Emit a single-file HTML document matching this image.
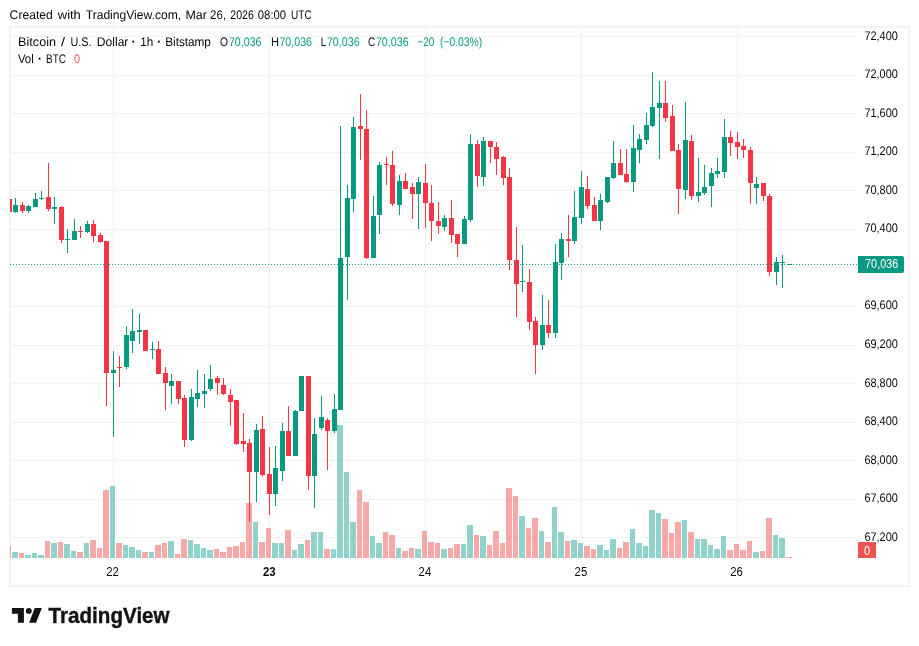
<!DOCTYPE html>
<html lang="en"><head><meta charset="utf-8"><title>BTCUSD chart</title>
<style>html,body{margin:0;padding:0;background:#fff}body{width:919px;height:646px;overflow:hidden}svg{display:block}text{font-family:"Liberation Sans",Arial,sans-serif;font-size:12.5px;fill:#05070c}text.d{font-size:13px;font-weight:bold}text.g{fill:#089981}text.r{fill:#ef5350}</style></head><body>
<svg width="919" height="646" viewBox="0 0 919 646" shape-rendering="crispEdges">
<rect width="919" height="646" fill="#fff"/>
<g fill="#f2f2f3">
<rect x="11" y="36" width="846" height="1"/>
<rect x="11" y="75" width="846" height="1"/>
<rect x="11" y="113" width="846" height="1"/>
<rect x="11" y="152" width="846" height="1"/>
<rect x="11" y="190" width="846" height="1"/>
<rect x="11" y="229" width="846" height="1"/>
<rect x="11" y="267" width="846" height="1"/>
<rect x="11" y="306" width="846" height="1"/>
<rect x="11" y="345" width="846" height="1"/>
<rect x="11" y="383" width="846" height="1"/>
<rect x="11" y="422" width="846" height="1"/>
<rect x="11" y="460" width="846" height="1"/>
<rect x="11" y="499" width="846" height="1"/>
<rect x="11" y="537" width="846" height="1"/>
<rect x="113" y="28" width="1" height="530"/>
<rect x="269" y="28" width="1" height="530"/>
<rect x="425" y="28" width="1" height="530"/>
<rect x="581" y="28" width="1" height="530"/>
<rect x="737" y="28" width="1" height="530"/>
</g>
<rect x="10" y="27" width="899" height="559" fill="none" stroke="#f3f3f4" stroke-width="2"/>
<g>
<rect x="10" y="546" width="1" height="12" fill="rgba(239,83,80,0.5)"/>
<rect x="12" y="552" width="6" height="6" fill="rgba(38,166,154,0.5)"/>
<rect x="19" y="553" width="5" height="5" fill="rgba(239,83,80,0.5)"/>
<rect x="25" y="555" width="6" height="3" fill="rgba(38,166,154,0.5)"/>
<rect x="32" y="553" width="5" height="5" fill="rgba(38,166,154,0.5)"/>
<rect x="38" y="555" width="6" height="3" fill="rgba(38,166,154,0.5)"/>
<rect x="45" y="541" width="5" height="17" fill="rgba(239,83,80,0.5)"/>
<rect x="51" y="543" width="6" height="15" fill="rgba(38,166,154,0.5)"/>
<rect x="58" y="542" width="5" height="16" fill="rgba(239,83,80,0.5)"/>
<rect x="64" y="544" width="6" height="14" fill="rgba(38,166,154,0.5)"/>
<rect x="71" y="551" width="5" height="7" fill="rgba(38,166,154,0.5)"/>
<rect x="77" y="552" width="6" height="6" fill="rgba(239,83,80,0.5)"/>
<rect x="84" y="543" width="5" height="15" fill="rgba(38,166,154,0.5)"/>
<rect x="90" y="540" width="6" height="18" fill="rgba(239,83,80,0.5)"/>
<rect x="97" y="548" width="5" height="10" fill="rgba(239,83,80,0.5)"/>
<rect x="103" y="490" width="6" height="68" fill="rgba(239,83,80,0.5)"/>
<rect x="110" y="486" width="5" height="72" fill="rgba(38,166,154,0.5)"/>
<rect x="116" y="543" width="6" height="15" fill="rgba(239,83,80,0.5)"/>
<rect x="123" y="545" width="5" height="13" fill="rgba(38,166,154,0.5)"/>
<rect x="129" y="547" width="6" height="11" fill="rgba(38,166,154,0.5)"/>
<rect x="136" y="550" width="5" height="8" fill="rgba(38,166,154,0.5)"/>
<rect x="142" y="552" width="6" height="6" fill="rgba(239,83,80,0.5)"/>
<rect x="149" y="552" width="5" height="6" fill="rgba(38,166,154,0.5)"/>
<rect x="155" y="545" width="6" height="13" fill="rgba(239,83,80,0.5)"/>
<rect x="162" y="543" width="5" height="15" fill="rgba(239,83,80,0.5)"/>
<rect x="168" y="541" width="6" height="17" fill="rgba(38,166,154,0.5)"/>
<rect x="175" y="554" width="5" height="4" fill="rgba(239,83,80,0.5)"/>
<rect x="181" y="539" width="6" height="19" fill="rgba(239,83,80,0.5)"/>
<rect x="188" y="540" width="5" height="18" fill="rgba(38,166,154,0.5)"/>
<rect x="194" y="544" width="6" height="14" fill="rgba(38,166,154,0.5)"/>
<rect x="201" y="548" width="5" height="10" fill="rgba(38,166,154,0.5)"/>
<rect x="207" y="550" width="6" height="8" fill="rgba(38,166,154,0.5)"/>
<rect x="214" y="549" width="5" height="9" fill="rgba(239,83,80,0.5)"/>
<rect x="220" y="552" width="6" height="6" fill="rgba(239,83,80,0.5)"/>
<rect x="227" y="547" width="5" height="11" fill="rgba(239,83,80,0.5)"/>
<rect x="233" y="546" width="6" height="12" fill="rgba(239,83,80,0.5)"/>
<rect x="240" y="542" width="5" height="16" fill="rgba(239,83,80,0.5)"/>
<rect x="246" y="503" width="6" height="55" fill="rgba(239,83,80,0.5)"/>
<rect x="253" y="522" width="5" height="36" fill="rgba(38,166,154,0.5)"/>
<rect x="259" y="542" width="6" height="16" fill="rgba(239,83,80,0.5)"/>
<rect x="266" y="528" width="5" height="30" fill="rgba(239,83,80,0.5)"/>
<rect x="272" y="543" width="6" height="15" fill="rgba(38,166,154,0.5)"/>
<rect x="279" y="543" width="5" height="15" fill="rgba(38,166,154,0.5)"/>
<rect x="285" y="530" width="6" height="28" fill="rgba(239,83,80,0.5)"/>
<rect x="292" y="550" width="5" height="8" fill="rgba(38,166,154,0.5)"/>
<rect x="298" y="544" width="6" height="14" fill="rgba(38,166,154,0.5)"/>
<rect x="305" y="540" width="5" height="18" fill="rgba(239,83,80,0.5)"/>
<rect x="311" y="532" width="6" height="26" fill="rgba(38,166,154,0.5)"/>
<rect x="318" y="532" width="5" height="26" fill="rgba(38,166,154,0.5)"/>
<rect x="324" y="549" width="6" height="9" fill="rgba(239,83,80,0.5)"/>
<rect x="331" y="549" width="5" height="9" fill="rgba(38,166,154,0.5)"/>
<rect x="337" y="425" width="6" height="133" fill="rgba(38,166,154,0.5)"/>
<rect x="344" y="472" width="5" height="86" fill="rgba(38,166,154,0.5)"/>
<rect x="350" y="522" width="6" height="36" fill="rgba(38,166,154,0.5)"/>
<rect x="357" y="490" width="5" height="68" fill="rgba(239,83,80,0.5)"/>
<rect x="363" y="502" width="6" height="56" fill="rgba(239,83,80,0.5)"/>
<rect x="370" y="536" width="5" height="22" fill="rgba(38,166,154,0.5)"/>
<rect x="376" y="543" width="6" height="15" fill="rgba(38,166,154,0.5)"/>
<rect x="383" y="532" width="5" height="26" fill="rgba(239,83,80,0.5)"/>
<rect x="389" y="535" width="6" height="23" fill="rgba(239,83,80,0.5)"/>
<rect x="396" y="548" width="5" height="10" fill="rgba(38,166,154,0.5)"/>
<rect x="402" y="551" width="6" height="7" fill="rgba(239,83,80,0.5)"/>
<rect x="409" y="548" width="5" height="10" fill="rgba(239,83,80,0.5)"/>
<rect x="415" y="549" width="6" height="9" fill="rgba(38,166,154,0.5)"/>
<rect x="422" y="531" width="5" height="27" fill="rgba(239,83,80,0.5)"/>
<rect x="428" y="542" width="6" height="16" fill="rgba(239,83,80,0.5)"/>
<rect x="435" y="543" width="5" height="15" fill="rgba(239,83,80,0.5)"/>
<rect x="441" y="549" width="6" height="9" fill="rgba(38,166,154,0.5)"/>
<rect x="448" y="548" width="5" height="10" fill="rgba(239,83,80,0.5)"/>
<rect x="454" y="544" width="6" height="14" fill="rgba(239,83,80,0.5)"/>
<rect x="461" y="544" width="5" height="14" fill="rgba(38,166,154,0.5)"/>
<rect x="467" y="525" width="6" height="33" fill="rgba(38,166,154,0.5)"/>
<rect x="474" y="535" width="5" height="23" fill="rgba(239,83,80,0.5)"/>
<rect x="480" y="536" width="6" height="22" fill="rgba(38,166,154,0.5)"/>
<rect x="487" y="545" width="5" height="13" fill="rgba(239,83,80,0.5)"/>
<rect x="493" y="531" width="6" height="27" fill="rgba(239,83,80,0.5)"/>
<rect x="500" y="543" width="5" height="15" fill="rgba(239,83,80,0.5)"/>
<rect x="506" y="488" width="6" height="70" fill="rgba(239,83,80,0.5)"/>
<rect x="513" y="496" width="5" height="62" fill="rgba(239,83,80,0.5)"/>
<rect x="519" y="516" width="6" height="42" fill="rgba(38,166,154,0.5)"/>
<rect x="526" y="528" width="5" height="30" fill="rgba(239,83,80,0.5)"/>
<rect x="532" y="518" width="6" height="40" fill="rgba(239,83,80,0.5)"/>
<rect x="539" y="531" width="5" height="27" fill="rgba(38,166,154,0.5)"/>
<rect x="545" y="542" width="6" height="16" fill="rgba(239,83,80,0.5)"/>
<rect x="552" y="507" width="5" height="51" fill="rgba(38,166,154,0.5)"/>
<rect x="558" y="532" width="6" height="26" fill="rgba(38,166,154,0.5)"/>
<rect x="565" y="541" width="5" height="17" fill="rgba(239,83,80,0.5)"/>
<rect x="571" y="540" width="6" height="18" fill="rgba(38,166,154,0.5)"/>
<rect x="578" y="543" width="5" height="15" fill="rgba(38,166,154,0.5)"/>
<rect x="584" y="546" width="6" height="12" fill="rgba(239,83,80,0.5)"/>
<rect x="591" y="549" width="5" height="9" fill="rgba(239,83,80,0.5)"/>
<rect x="597" y="545" width="6" height="13" fill="rgba(38,166,154,0.5)"/>
<rect x="604" y="550" width="5" height="8" fill="rgba(38,166,154,0.5)"/>
<rect x="610" y="539" width="6" height="19" fill="rgba(38,166,154,0.5)"/>
<rect x="617" y="548" width="5" height="10" fill="rgba(239,83,80,0.5)"/>
<rect x="623" y="542" width="6" height="16" fill="rgba(239,83,80,0.5)"/>
<rect x="630" y="529" width="5" height="29" fill="rgba(38,166,154,0.5)"/>
<rect x="636" y="543" width="6" height="15" fill="rgba(38,166,154,0.5)"/>
<rect x="643" y="546" width="5" height="12" fill="rgba(38,166,154,0.5)"/>
<rect x="649" y="510" width="6" height="48" fill="rgba(38,166,154,0.5)"/>
<rect x="656" y="513" width="5" height="45" fill="rgba(38,166,154,0.5)"/>
<rect x="662" y="519" width="6" height="39" fill="rgba(239,83,80,0.5)"/>
<rect x="669" y="533" width="5" height="25" fill="rgba(239,83,80,0.5)"/>
<rect x="675" y="522" width="6" height="36" fill="rgba(239,83,80,0.5)"/>
<rect x="682" y="520" width="5" height="38" fill="rgba(38,166,154,0.5)"/>
<rect x="688" y="532" width="6" height="26" fill="rgba(239,83,80,0.5)"/>
<rect x="695" y="539" width="5" height="19" fill="rgba(38,166,154,0.5)"/>
<rect x="701" y="539" width="6" height="19" fill="rgba(38,166,154,0.5)"/>
<rect x="708" y="545" width="5" height="13" fill="rgba(38,166,154,0.5)"/>
<rect x="714" y="549" width="6" height="9" fill="rgba(38,166,154,0.5)"/>
<rect x="721" y="536" width="5" height="22" fill="rgba(38,166,154,0.5)"/>
<rect x="727" y="550" width="6" height="8" fill="rgba(239,83,80,0.5)"/>
<rect x="734" y="544" width="5" height="14" fill="rgba(239,83,80,0.5)"/>
<rect x="740" y="550" width="6" height="8" fill="rgba(239,83,80,0.5)"/>
<rect x="747" y="541" width="5" height="17" fill="rgba(239,83,80,0.5)"/>
<rect x="753" y="552" width="6" height="6" fill="rgba(38,166,154,0.5)"/>
<rect x="760" y="551" width="5" height="7" fill="rgba(239,83,80,0.5)"/>
<rect x="766" y="518" width="6" height="40" fill="rgba(239,83,80,0.5)"/>
<rect x="773" y="535" width="5" height="23" fill="rgba(38,166,154,0.5)"/>
<rect x="779" y="538" width="6" height="20" fill="rgba(38,166,154,0.5)"/>
<rect x="786" y="557" width="6" height="1" fill="rgba(239,83,80,0.5)"/>
</g>
<g>
<rect x="10" y="199" width="2" height="13" fill="#f23645"/>
<rect x="15" y="198" width="1" height="15" fill="#089981"/>
<rect x="13" y="205" width="5" height="7" fill="#089981"/>
<rect x="22" y="202" width="1" height="11" fill="#f23645"/>
<rect x="20" y="205" width="5" height="6" fill="#f23645"/>
<rect x="28" y="205" width="1" height="8" fill="#089981"/>
<rect x="26" y="206" width="5" height="5" fill="#089981"/>
<rect x="35" y="193" width="1" height="14" fill="#089981"/>
<rect x="33" y="199" width="5" height="8" fill="#089981"/>
<rect x="41" y="191" width="1" height="9" fill="#089981"/>
<rect x="39" y="198" width="5" height="1" fill="#089981"/>
<rect x="48" y="163" width="1" height="48" fill="#f23645"/>
<rect x="46" y="197" width="5" height="12" fill="#f23645"/>
<rect x="54" y="197" width="1" height="27" fill="#089981"/>
<rect x="52" y="207" width="5" height="2" fill="#089981"/>
<rect x="61" y="206" width="1" height="37" fill="#f23645"/>
<rect x="59" y="207" width="5" height="33" fill="#f23645"/>
<rect x="67" y="229" width="1" height="24" fill="#089981"/>
<rect x="65" y="239" width="5" height="1" fill="#089981"/>
<rect x="74" y="219" width="1" height="21" fill="#089981"/>
<rect x="72" y="231" width="5" height="9" fill="#089981"/>
<rect x="80" y="226" width="1" height="12" fill="#f23645"/>
<rect x="78" y="231" width="5" height="1" fill="#f23645"/>
<rect x="87" y="221" width="1" height="12" fill="#089981"/>
<rect x="85" y="224" width="5" height="8" fill="#089981"/>
<rect x="93" y="220" width="1" height="22" fill="#f23645"/>
<rect x="91" y="224" width="5" height="12" fill="#f23645"/>
<rect x="100" y="233" width="1" height="10" fill="#f23645"/>
<rect x="98" y="235" width="5" height="7" fill="#f23645"/>
<rect x="106" y="241" width="1" height="165" fill="#f23645"/>
<rect x="104" y="241" width="5" height="132" fill="#f23645"/>
<rect x="113" y="351" width="1" height="86" fill="#089981"/>
<rect x="111" y="370" width="5" height="3" fill="#089981"/>
<rect x="119" y="356" width="1" height="31" fill="#f23645"/>
<rect x="117" y="367" width="5" height="1" fill="#f23645"/>
<rect x="126" y="326" width="1" height="43" fill="#089981"/>
<rect x="124" y="335" width="5" height="32" fill="#089981"/>
<rect x="132" y="309" width="1" height="44" fill="#089981"/>
<rect x="130" y="331" width="5" height="10" fill="#089981"/>
<rect x="139" y="314" width="1" height="30" fill="#089981"/>
<rect x="137" y="330" width="5" height="2" fill="#089981"/>
<rect x="145" y="330" width="1" height="21" fill="#f23645"/>
<rect x="143" y="330" width="5" height="21" fill="#f23645"/>
<rect x="152" y="342" width="1" height="17" fill="#089981"/>
<rect x="150" y="349" width="5" height="1" fill="#089981"/>
<rect x="158" y="341" width="1" height="33" fill="#f23645"/>
<rect x="156" y="349" width="5" height="25" fill="#f23645"/>
<rect x="165" y="367" width="1" height="43" fill="#f23645"/>
<rect x="163" y="373" width="5" height="10" fill="#f23645"/>
<rect x="171" y="374" width="1" height="30" fill="#089981"/>
<rect x="169" y="381" width="5" height="5" fill="#089981"/>
<rect x="178" y="381" width="1" height="23" fill="#f23645"/>
<rect x="176" y="381" width="5" height="18" fill="#f23645"/>
<rect x="184" y="395" width="1" height="52" fill="#f23645"/>
<rect x="182" y="398" width="5" height="42" fill="#f23645"/>
<rect x="191" y="389" width="1" height="52" fill="#089981"/>
<rect x="189" y="397" width="5" height="43" fill="#089981"/>
<rect x="197" y="370" width="1" height="37" fill="#089981"/>
<rect x="195" y="393" width="5" height="6" fill="#089981"/>
<rect x="204" y="374" width="1" height="34" fill="#089981"/>
<rect x="202" y="391" width="5" height="3" fill="#089981"/>
<rect x="210" y="365" width="1" height="26" fill="#089981"/>
<rect x="208" y="379" width="5" height="10" fill="#089981"/>
<rect x="217" y="376" width="1" height="19" fill="#f23645"/>
<rect x="215" y="378" width="5" height="5" fill="#f23645"/>
<rect x="223" y="378" width="1" height="17" fill="#f23645"/>
<rect x="221" y="385" width="5" height="9" fill="#f23645"/>
<rect x="230" y="389" width="1" height="37" fill="#f23645"/>
<rect x="228" y="395" width="5" height="7" fill="#f23645"/>
<rect x="236" y="400" width="1" height="45" fill="#f23645"/>
<rect x="234" y="400" width="5" height="44" fill="#f23645"/>
<rect x="243" y="413" width="1" height="39" fill="#f23645"/>
<rect x="241" y="441" width="5" height="3" fill="#f23645"/>
<rect x="249" y="439" width="1" height="83" fill="#f23645"/>
<rect x="247" y="443" width="5" height="29" fill="#f23645"/>
<rect x="256" y="424" width="1" height="78" fill="#089981"/>
<rect x="254" y="430" width="5" height="42" fill="#089981"/>
<rect x="262" y="416" width="1" height="61" fill="#f23645"/>
<rect x="260" y="429" width="5" height="46" fill="#f23645"/>
<rect x="269" y="447" width="1" height="68" fill="#f23645"/>
<rect x="267" y="474" width="5" height="20" fill="#f23645"/>
<rect x="275" y="446" width="1" height="60" fill="#089981"/>
<rect x="273" y="468" width="5" height="26" fill="#089981"/>
<rect x="282" y="423" width="1" height="58" fill="#089981"/>
<rect x="280" y="431" width="5" height="40" fill="#089981"/>
<rect x="288" y="406" width="1" height="50" fill="#f23645"/>
<rect x="286" y="431" width="5" height="25" fill="#f23645"/>
<rect x="295" y="410" width="1" height="46" fill="#089981"/>
<rect x="293" y="411" width="5" height="45" fill="#089981"/>
<rect x="301" y="376" width="1" height="35" fill="#089981"/>
<rect x="299" y="376" width="5" height="35" fill="#089981"/>
<rect x="308" y="376" width="1" height="114" fill="#f23645"/>
<rect x="306" y="376" width="5" height="100" fill="#f23645"/>
<rect x="314" y="418" width="1" height="90" fill="#089981"/>
<rect x="312" y="434" width="5" height="42" fill="#089981"/>
<rect x="321" y="396" width="1" height="34" fill="#089981"/>
<rect x="319" y="417" width="5" height="11" fill="#089981"/>
<rect x="327" y="418" width="1" height="52" fill="#f23645"/>
<rect x="325" y="420" width="5" height="11" fill="#f23645"/>
<rect x="334" y="394" width="1" height="39" fill="#089981"/>
<rect x="332" y="409" width="5" height="22" fill="#089981"/>
<rect x="340" y="126" width="1" height="284" fill="#089981"/>
<rect x="338" y="258" width="5" height="152" fill="#089981"/>
<rect x="347" y="185" width="1" height="115" fill="#089981"/>
<rect x="345" y="198" width="5" height="59" fill="#089981"/>
<rect x="353" y="117" width="1" height="95" fill="#089981"/>
<rect x="351" y="127" width="5" height="72" fill="#089981"/>
<rect x="360" y="94" width="1" height="66" fill="#f23645"/>
<rect x="358" y="126" width="5" height="3" fill="#f23645"/>
<rect x="366" y="110" width="1" height="149" fill="#f23645"/>
<rect x="364" y="129" width="5" height="129" fill="#f23645"/>
<rect x="373" y="196" width="1" height="62" fill="#089981"/>
<rect x="371" y="216" width="5" height="42" fill="#089981"/>
<rect x="379" y="162" width="1" height="72" fill="#089981"/>
<rect x="377" y="165" width="5" height="50" fill="#089981"/>
<rect x="386" y="157" width="1" height="28" fill="#f23645"/>
<rect x="384" y="164" width="5" height="1" fill="#f23645"/>
<rect x="392" y="151" width="1" height="55" fill="#f23645"/>
<rect x="390" y="165" width="5" height="39" fill="#f23645"/>
<rect x="399" y="175" width="1" height="40" fill="#089981"/>
<rect x="397" y="181" width="5" height="24" fill="#089981"/>
<rect x="405" y="173" width="1" height="16" fill="#f23645"/>
<rect x="403" y="181" width="5" height="8" fill="#f23645"/>
<rect x="412" y="183" width="1" height="36" fill="#f23645"/>
<rect x="410" y="187" width="5" height="7" fill="#f23645"/>
<rect x="418" y="177" width="1" height="52" fill="#089981"/>
<rect x="416" y="182" width="5" height="12" fill="#089981"/>
<rect x="425" y="164" width="1" height="64" fill="#f23645"/>
<rect x="423" y="183" width="5" height="20" fill="#f23645"/>
<rect x="431" y="185" width="1" height="56" fill="#f23645"/>
<rect x="429" y="203" width="5" height="18" fill="#f23645"/>
<rect x="438" y="202" width="1" height="32" fill="#f23645"/>
<rect x="436" y="221" width="5" height="5" fill="#f23645"/>
<rect x="444" y="215" width="1" height="16" fill="#089981"/>
<rect x="442" y="218" width="5" height="9" fill="#089981"/>
<rect x="451" y="200" width="1" height="43" fill="#f23645"/>
<rect x="449" y="218" width="5" height="17" fill="#f23645"/>
<rect x="457" y="234" width="1" height="23" fill="#f23645"/>
<rect x="455" y="234" width="5" height="10" fill="#f23645"/>
<rect x="464" y="216" width="1" height="28" fill="#089981"/>
<rect x="462" y="219" width="5" height="25" fill="#089981"/>
<rect x="470" y="134" width="1" height="88" fill="#089981"/>
<rect x="468" y="144" width="5" height="76" fill="#089981"/>
<rect x="477" y="140" width="1" height="47" fill="#f23645"/>
<rect x="475" y="144" width="5" height="32" fill="#f23645"/>
<rect x="483" y="137" width="1" height="49" fill="#089981"/>
<rect x="481" y="141" width="5" height="36" fill="#089981"/>
<rect x="490" y="141" width="1" height="22" fill="#f23645"/>
<rect x="488" y="141" width="5" height="6" fill="#f23645"/>
<rect x="496" y="142" width="1" height="33" fill="#f23645"/>
<rect x="494" y="147" width="5" height="12" fill="#f23645"/>
<rect x="503" y="156" width="1" height="29" fill="#f23645"/>
<rect x="501" y="157" width="5" height="21" fill="#f23645"/>
<rect x="509" y="168" width="1" height="102" fill="#f23645"/>
<rect x="507" y="177" width="5" height="83" fill="#f23645"/>
<rect x="516" y="227" width="1" height="90" fill="#f23645"/>
<rect x="514" y="260" width="5" height="24" fill="#f23645"/>
<rect x="522" y="245" width="1" height="47" fill="#089981"/>
<rect x="520" y="281" width="5" height="1" fill="#089981"/>
<rect x="529" y="269" width="1" height="61" fill="#f23645"/>
<rect x="527" y="282" width="5" height="40" fill="#f23645"/>
<rect x="535" y="317" width="1" height="57" fill="#f23645"/>
<rect x="533" y="321" width="5" height="24" fill="#f23645"/>
<rect x="542" y="295" width="1" height="55" fill="#089981"/>
<rect x="540" y="325" width="5" height="20" fill="#089981"/>
<rect x="548" y="300" width="1" height="38" fill="#f23645"/>
<rect x="546" y="325" width="5" height="8" fill="#f23645"/>
<rect x="555" y="244" width="1" height="94" fill="#089981"/>
<rect x="553" y="262" width="5" height="71" fill="#089981"/>
<rect x="561" y="233" width="1" height="47" fill="#089981"/>
<rect x="559" y="239" width="5" height="24" fill="#089981"/>
<rect x="568" y="215" width="1" height="42" fill="#f23645"/>
<rect x="566" y="239" width="5" height="2" fill="#f23645"/>
<rect x="574" y="191" width="1" height="53" fill="#089981"/>
<rect x="572" y="217" width="5" height="24" fill="#089981"/>
<rect x="581" y="171" width="1" height="53" fill="#089981"/>
<rect x="579" y="187" width="5" height="31" fill="#089981"/>
<rect x="587" y="176" width="1" height="33" fill="#f23645"/>
<rect x="585" y="189" width="5" height="17" fill="#f23645"/>
<rect x="594" y="197" width="1" height="24" fill="#f23645"/>
<rect x="592" y="205" width="5" height="16" fill="#f23645"/>
<rect x="600" y="194" width="1" height="36" fill="#089981"/>
<rect x="598" y="200" width="5" height="21" fill="#089981"/>
<rect x="607" y="177" width="1" height="26" fill="#089981"/>
<rect x="605" y="177" width="5" height="25" fill="#089981"/>
<rect x="613" y="141" width="1" height="38" fill="#089981"/>
<rect x="611" y="163" width="5" height="15" fill="#089981"/>
<rect x="620" y="149" width="1" height="26" fill="#f23645"/>
<rect x="618" y="163" width="5" height="12" fill="#f23645"/>
<rect x="626" y="149" width="1" height="34" fill="#f23645"/>
<rect x="624" y="174" width="5" height="8" fill="#f23645"/>
<rect x="633" y="125" width="1" height="67" fill="#089981"/>
<rect x="631" y="148" width="5" height="34" fill="#089981"/>
<rect x="639" y="134" width="1" height="29" fill="#089981"/>
<rect x="637" y="139" width="5" height="11" fill="#089981"/>
<rect x="646" y="113" width="1" height="31" fill="#089981"/>
<rect x="644" y="125" width="5" height="15" fill="#089981"/>
<rect x="652" y="72" width="1" height="55" fill="#089981"/>
<rect x="650" y="107" width="5" height="19" fill="#089981"/>
<rect x="659" y="81" width="1" height="78" fill="#089981"/>
<rect x="657" y="103" width="5" height="5" fill="#089981"/>
<rect x="665" y="81" width="1" height="41" fill="#f23645"/>
<rect x="663" y="103" width="5" height="15" fill="#f23645"/>
<rect x="672" y="105" width="1" height="46" fill="#f23645"/>
<rect x="670" y="116" width="5" height="35" fill="#f23645"/>
<rect x="678" y="144" width="1" height="70" fill="#f23645"/>
<rect x="676" y="150" width="5" height="39" fill="#f23645"/>
<rect x="685" y="102" width="1" height="97" fill="#089981"/>
<rect x="683" y="140" width="5" height="50" fill="#089981"/>
<rect x="691" y="135" width="1" height="65" fill="#f23645"/>
<rect x="689" y="141" width="5" height="55" fill="#f23645"/>
<rect x="698" y="158" width="1" height="44" fill="#089981"/>
<rect x="696" y="192" width="5" height="4" fill="#089981"/>
<rect x="704" y="165" width="1" height="30" fill="#089981"/>
<rect x="702" y="187" width="5" height="6" fill="#089981"/>
<rect x="711" y="168" width="1" height="39" fill="#089981"/>
<rect x="709" y="173" width="5" height="13" fill="#089981"/>
<rect x="717" y="158" width="1" height="20" fill="#089981"/>
<rect x="715" y="171" width="5" height="3" fill="#089981"/>
<rect x="724" y="119" width="1" height="59" fill="#089981"/>
<rect x="722" y="137" width="5" height="35" fill="#089981"/>
<rect x="730" y="131" width="1" height="25" fill="#f23645"/>
<rect x="728" y="137" width="5" height="6" fill="#f23645"/>
<rect x="737" y="132" width="1" height="27" fill="#f23645"/>
<rect x="735" y="142" width="5" height="5" fill="#f23645"/>
<rect x="743" y="139" width="1" height="19" fill="#f23645"/>
<rect x="741" y="146" width="5" height="4" fill="#f23645"/>
<rect x="750" y="147" width="1" height="57" fill="#f23645"/>
<rect x="748" y="150" width="5" height="33" fill="#f23645"/>
<rect x="756" y="177" width="1" height="27" fill="#089981"/>
<rect x="754" y="184" width="5" height="4" fill="#089981"/>
<rect x="763" y="183" width="1" height="18" fill="#f23645"/>
<rect x="761" y="183" width="5" height="13" fill="#f23645"/>
<rect x="769" y="194" width="1" height="82" fill="#f23645"/>
<rect x="767" y="196" width="5" height="76" fill="#f23645"/>
<rect x="776" y="257" width="1" height="28" fill="#089981"/>
<rect x="774" y="262" width="5" height="10" fill="#089981"/>
<rect x="782" y="255" width="1" height="33" fill="#089981"/>
<rect x="780" y="262" width="5" height="1" fill="#089981"/>
<rect x="789" y="264" width="1" height="1" fill="#089981"/>
<rect x="787" y="264" width="5" height="1" fill="#089981"/>
</g>
<g fill="#089981">
<path d="M10 264h1v1h-1zM13 264h1v1h-1zM16 264h1v1h-1zM19 264h1v1h-1zM22 264h1v1h-1zM25 264h1v1h-1zM28 264h1v1h-1zM31 264h1v1h-1zM34 264h1v1h-1zM37 264h1v1h-1zM40 264h1v1h-1zM43 264h1v1h-1zM46 264h1v1h-1zM49 264h1v1h-1zM52 264h1v1h-1zM55 264h1v1h-1zM58 264h1v1h-1zM61 264h1v1h-1zM64 264h1v1h-1zM67 264h1v1h-1zM70 264h1v1h-1zM73 264h1v1h-1zM76 264h1v1h-1zM79 264h1v1h-1zM82 264h1v1h-1zM85 264h1v1h-1zM88 264h1v1h-1zM91 264h1v1h-1zM94 264h1v1h-1zM97 264h1v1h-1zM100 264h1v1h-1zM103 264h1v1h-1zM106 264h1v1h-1zM109 264h1v1h-1zM112 264h1v1h-1zM115 264h1v1h-1zM118 264h1v1h-1zM121 264h1v1h-1zM124 264h1v1h-1zM127 264h1v1h-1zM130 264h1v1h-1zM133 264h1v1h-1zM136 264h1v1h-1zM139 264h1v1h-1zM142 264h1v1h-1zM145 264h1v1h-1zM148 264h1v1h-1zM151 264h1v1h-1zM154 264h1v1h-1zM157 264h1v1h-1zM160 264h1v1h-1zM163 264h1v1h-1zM166 264h1v1h-1zM169 264h1v1h-1zM172 264h1v1h-1zM175 264h1v1h-1zM178 264h1v1h-1zM181 264h1v1h-1zM184 264h1v1h-1zM187 264h1v1h-1zM190 264h1v1h-1zM193 264h1v1h-1zM196 264h1v1h-1zM199 264h1v1h-1zM202 264h1v1h-1zM205 264h1v1h-1zM208 264h1v1h-1zM211 264h1v1h-1zM214 264h1v1h-1zM217 264h1v1h-1zM220 264h1v1h-1zM223 264h1v1h-1zM226 264h1v1h-1zM229 264h1v1h-1zM232 264h1v1h-1zM235 264h1v1h-1zM238 264h1v1h-1zM241 264h1v1h-1zM244 264h1v1h-1zM247 264h1v1h-1zM250 264h1v1h-1zM253 264h1v1h-1zM256 264h1v1h-1zM259 264h1v1h-1zM262 264h1v1h-1zM265 264h1v1h-1zM268 264h1v1h-1zM271 264h1v1h-1zM274 264h1v1h-1zM277 264h1v1h-1zM280 264h1v1h-1zM283 264h1v1h-1zM286 264h1v1h-1zM289 264h1v1h-1zM292 264h1v1h-1zM295 264h1v1h-1zM298 264h1v1h-1zM301 264h1v1h-1zM304 264h1v1h-1zM307 264h1v1h-1zM310 264h1v1h-1zM313 264h1v1h-1zM316 264h1v1h-1zM319 264h1v1h-1zM322 264h1v1h-1zM325 264h1v1h-1zM328 264h1v1h-1zM331 264h1v1h-1zM334 264h1v1h-1zM337 264h1v1h-1zM340 264h1v1h-1zM343 264h1v1h-1zM346 264h1v1h-1zM349 264h1v1h-1zM352 264h1v1h-1zM355 264h1v1h-1zM358 264h1v1h-1zM361 264h1v1h-1zM364 264h1v1h-1zM367 264h1v1h-1zM370 264h1v1h-1zM373 264h1v1h-1zM376 264h1v1h-1zM379 264h1v1h-1zM382 264h1v1h-1zM385 264h1v1h-1zM388 264h1v1h-1zM391 264h1v1h-1zM394 264h1v1h-1zM397 264h1v1h-1zM400 264h1v1h-1zM403 264h1v1h-1zM406 264h1v1h-1zM409 264h1v1h-1zM412 264h1v1h-1zM415 264h1v1h-1zM418 264h1v1h-1zM421 264h1v1h-1zM424 264h1v1h-1zM427 264h1v1h-1zM430 264h1v1h-1zM433 264h1v1h-1zM436 264h1v1h-1zM439 264h1v1h-1zM442 264h1v1h-1zM445 264h1v1h-1zM448 264h1v1h-1zM451 264h1v1h-1zM454 264h1v1h-1zM457 264h1v1h-1zM460 264h1v1h-1zM463 264h1v1h-1zM466 264h1v1h-1zM469 264h1v1h-1zM472 264h1v1h-1zM475 264h1v1h-1zM478 264h1v1h-1zM481 264h1v1h-1zM484 264h1v1h-1zM487 264h1v1h-1zM490 264h1v1h-1zM493 264h1v1h-1zM496 264h1v1h-1zM499 264h1v1h-1zM502 264h1v1h-1zM505 264h1v1h-1zM508 264h1v1h-1zM511 264h1v1h-1zM514 264h1v1h-1zM517 264h1v1h-1zM520 264h1v1h-1zM523 264h1v1h-1zM526 264h1v1h-1zM529 264h1v1h-1zM532 264h1v1h-1zM535 264h1v1h-1zM538 264h1v1h-1zM541 264h1v1h-1zM544 264h1v1h-1zM547 264h1v1h-1zM550 264h1v1h-1zM553 264h1v1h-1zM556 264h1v1h-1zM559 264h1v1h-1zM562 264h1v1h-1zM565 264h1v1h-1zM568 264h1v1h-1zM571 264h1v1h-1zM574 264h1v1h-1zM577 264h1v1h-1zM580 264h1v1h-1zM583 264h1v1h-1zM586 264h1v1h-1zM589 264h1v1h-1zM592 264h1v1h-1zM595 264h1v1h-1zM598 264h1v1h-1zM601 264h1v1h-1zM604 264h1v1h-1zM607 264h1v1h-1zM610 264h1v1h-1zM613 264h1v1h-1zM616 264h1v1h-1zM619 264h1v1h-1zM622 264h1v1h-1zM625 264h1v1h-1zM628 264h1v1h-1zM631 264h1v1h-1zM634 264h1v1h-1zM637 264h1v1h-1zM640 264h1v1h-1zM643 264h1v1h-1zM646 264h1v1h-1zM649 264h1v1h-1zM652 264h1v1h-1zM655 264h1v1h-1zM658 264h1v1h-1zM661 264h1v1h-1zM664 264h1v1h-1zM667 264h1v1h-1zM670 264h1v1h-1zM673 264h1v1h-1zM676 264h1v1h-1zM679 264h1v1h-1zM682 264h1v1h-1zM685 264h1v1h-1zM688 264h1v1h-1zM691 264h1v1h-1zM694 264h1v1h-1zM697 264h1v1h-1zM700 264h1v1h-1zM703 264h1v1h-1zM706 264h1v1h-1zM709 264h1v1h-1zM712 264h1v1h-1zM715 264h1v1h-1zM718 264h1v1h-1zM721 264h1v1h-1zM724 264h1v1h-1zM727 264h1v1h-1zM730 264h1v1h-1zM733 264h1v1h-1zM736 264h1v1h-1zM739 264h1v1h-1zM742 264h1v1h-1zM745 264h1v1h-1zM748 264h1v1h-1zM751 264h1v1h-1zM754 264h1v1h-1zM757 264h1v1h-1zM760 264h1v1h-1zM763 264h1v1h-1zM766 264h1v1h-1zM769 264h1v1h-1zM772 264h1v1h-1zM775 264h1v1h-1zM778 264h1v1h-1zM781 264h1v1h-1zM784 264h1v1h-1zM787 264h1v1h-1zM790 264h1v1h-1zM793 264h1v1h-1zM796 264h1v1h-1zM799 264h1v1h-1zM802 264h1v1h-1zM805 264h1v1h-1zM808 264h1v1h-1zM811 264h1v1h-1zM814 264h1v1h-1zM817 264h1v1h-1zM820 264h1v1h-1zM823 264h1v1h-1zM826 264h1v1h-1zM829 264h1v1h-1zM832 264h1v1h-1zM835 264h1v1h-1zM838 264h1v1h-1zM841 264h1v1h-1zM844 264h1v1h-1zM847 264h1v1h-1zM850 264h1v1h-1zM853 264h1v1h-1zM856 264h1v1h-1z" stroke="none"/>
</g>
<g shape-rendering="auto" text-rendering="geometricPrecision">
<text x="9.6" y="18.9" textLength="43.3" lengthAdjust="spacingAndGlyphs">Created</text>
<text x="57.8" y="18.9" textLength="23.0" lengthAdjust="spacingAndGlyphs">with</text>
<text x="85.7" y="18.9" textLength="95.5" lengthAdjust="spacingAndGlyphs">TradingView.com,</text>
<text x="185.4" y="18.9" textLength="21.5" lengthAdjust="spacingAndGlyphs">Mar</text>
<text x="210.1" y="18.9" textLength="16.0" lengthAdjust="spacingAndGlyphs">26,</text>
<text x="230.3" y="18.9" textLength="23.6" lengthAdjust="spacingAndGlyphs">2026</text>
<text x="257.8" y="18.9" textLength="28.3" lengthAdjust="spacingAndGlyphs">08:00</text>
<text x="291.1" y="18.9" textLength="20.6" lengthAdjust="spacingAndGlyphs">UTC</text>
<text x="18.1" y="45.7" textLength="38.0" lengthAdjust="spacingAndGlyphs">Bitcoin</text>
<text x="60.9" y="45.7" textLength="4.0" lengthAdjust="spacingAndGlyphs">/</text>
<text x="70.4" y="45.7" textLength="21.0" lengthAdjust="spacingAndGlyphs">U.S.</text>
<text x="96.8" y="45.7" textLength="31.6" lengthAdjust="spacingAndGlyphs">Dollar</text>
<text x="131.5" y="45.7" class="d">·</text>
<text x="140.2" y="45.7" textLength="13.0" lengthAdjust="spacingAndGlyphs">1h</text>
<text x="157.0" y="45.7" class="d">·</text>
<text x="165.2" y="45.7" textLength="45.7" lengthAdjust="spacingAndGlyphs">Bitstamp</text>
<text x="220.0" y="45.7" textLength="8.0" lengthAdjust="spacingAndGlyphs">O</text>
<text x="228.9" y="45.7" textLength="32.6" lengthAdjust="spacingAndGlyphs" class="g">70,036</text>
<text x="270.9" y="45.7" textLength="8.0" lengthAdjust="spacingAndGlyphs">H</text>
<text x="279.4" y="45.7" textLength="32.6" lengthAdjust="spacingAndGlyphs" class="g">70,036</text>
<text x="320.8" y="45.7" textLength="5.3" lengthAdjust="spacingAndGlyphs">L</text>
<text x="326.9" y="45.7" textLength="32.9" lengthAdjust="spacingAndGlyphs" class="g">70,036</text>
<text x="367.9" y="45.7" textLength="7.2" lengthAdjust="spacingAndGlyphs">C</text>
<text x="375.9" y="45.7" textLength="32.9" lengthAdjust="spacingAndGlyphs" class="g">70,036</text>
<text x="417.4" y="45.7" textLength="17.0" lengthAdjust="spacingAndGlyphs" class="g">−20</text>
<text x="439.9" y="45.7" textLength="42.4" lengthAdjust="spacingAndGlyphs" class="g">(−0.03%)</text>
<text x="17.9" y="62.7" textLength="15.8" lengthAdjust="spacingAndGlyphs">Vol</text>
<text x="37.7" y="62.7" class="d">·</text>
<text x="46.0" y="62.7" textLength="20.0" lengthAdjust="spacingAndGlyphs">BTC</text>
<text x="74.1" y="62.7" textLength="6.0" lengthAdjust="spacingAndGlyphs" class="r">0</text>
<text x="864.4" y="39.9" textLength="33.4" lengthAdjust="spacingAndGlyphs">72,400</text>
<text x="864.4" y="77.9" textLength="33.4" lengthAdjust="spacingAndGlyphs">72,000</text>
<text x="864.4" y="116.9" textLength="33.4" lengthAdjust="spacingAndGlyphs">71,600</text>
<text x="864.4" y="154.9" textLength="33.4" lengthAdjust="spacingAndGlyphs">71,200</text>
<text x="864.4" y="193.9" textLength="33.4" lengthAdjust="spacingAndGlyphs">70,800</text>
<text x="864.4" y="231.9" textLength="33.4" lengthAdjust="spacingAndGlyphs">70,400</text>
<text x="864.4" y="308.9" textLength="33.4" lengthAdjust="spacingAndGlyphs">69,600</text>
<text x="864.4" y="347.9" textLength="33.4" lengthAdjust="spacingAndGlyphs">69,200</text>
<text x="864.4" y="386.9" textLength="33.4" lengthAdjust="spacingAndGlyphs">68,800</text>
<text x="864.4" y="424.9" textLength="33.4" lengthAdjust="spacingAndGlyphs">68,400</text>
<text x="864.4" y="463.9" textLength="33.4" lengthAdjust="spacingAndGlyphs">68,000</text>
<text x="864.4" y="501.9" textLength="33.4" lengthAdjust="spacingAndGlyphs">67,600</text>
<text x="864.4" y="540.9" textLength="33.4" lengthAdjust="spacingAndGlyphs">67,200</text>
</g>
<path d="M858 256h44a2 2 0 0 1 2 2v13a2 2 0 0 1-2 2h-44z" fill="#089981" shape-rendering="auto"/>
<text x="865.1" y="268" textLength="33.1" lengthAdjust="spacingAndGlyphs" fill="#fff" style="fill:#fff" shape-rendering="auto">70,036</text>
<rect x="858" y="542" width="18" height="16" fill="#ef5350"/>
<text x="864.1" y="554.7" textLength="6.2" lengthAdjust="spacingAndGlyphs" style="fill:#fff" shape-rendering="auto">0</text>
<text x="106.2" y="575.8" textLength="12.6" lengthAdjust="spacingAndGlyphs">22</text>
<text x="262.9" y="575.8" textLength="12.6" lengthAdjust="spacingAndGlyphs" font-weight="bold">23</text>
<text x="418.6" y="575.8" textLength="12.6" lengthAdjust="spacingAndGlyphs">24</text>
<text x="574.6" y="575.8" textLength="12.6" lengthAdjust="spacingAndGlyphs">25</text>
<text x="730.3" y="575.8" textLength="12.6" lengthAdjust="spacingAndGlyphs">26</text>
<g fill="#131313" shape-rendering="auto">
<path d="M11.9 608H23.9V622.8H17.9V613.8H11.9z"/>
<circle cx="28.8" cy="610.9" r="2.95"/>
<path d="M34.7 608H41.9L36 622.8H29.15z"/>
<text x="48.6" y="622.8" textLength="121" lengthAdjust="spacingAndGlyphs" style="font-size:21.5px;font-weight:bold;fill:#131313;stroke:#131313;stroke-width:0.4px">TradingView</text>
</g>
</svg></body></html>
